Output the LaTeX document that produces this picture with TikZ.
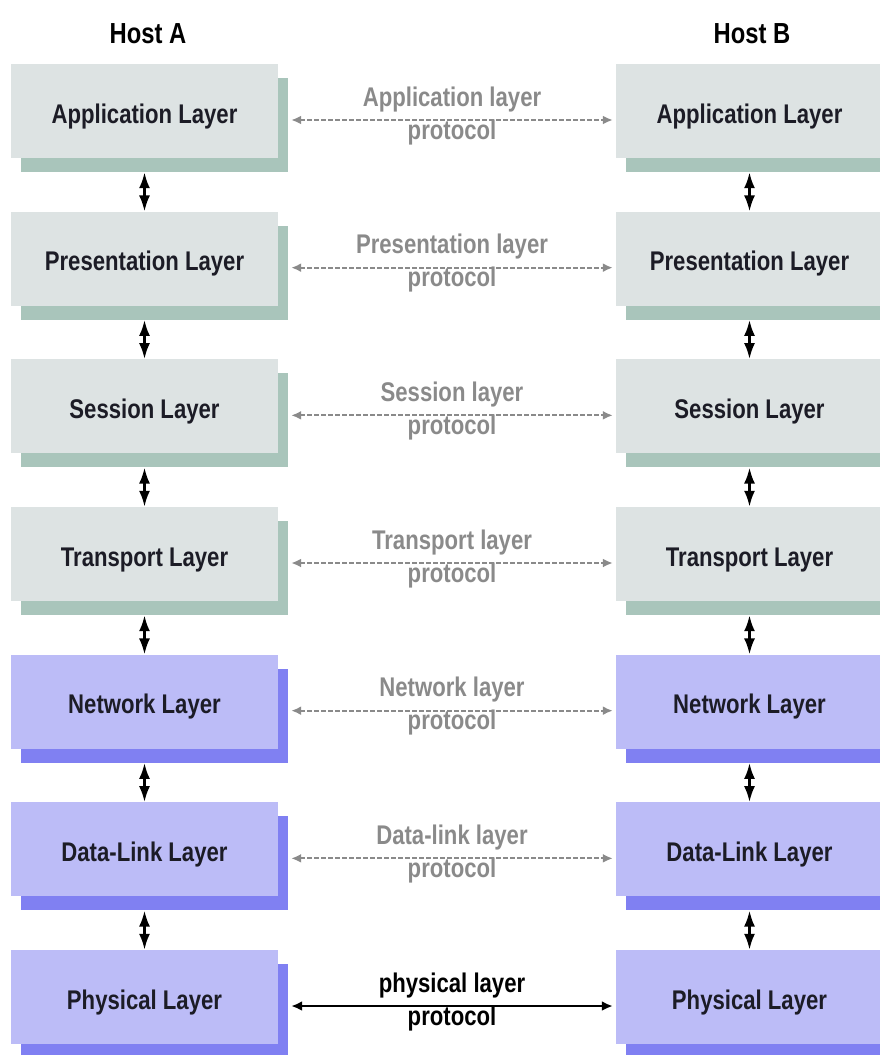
\documentclass[tikz,border=0pt]{standalone}
\usepackage{fontspec}
\newfontfamily\condfont[FakeStretch=0.82]{Liberation Sans}
\usetikzlibrary{arrows.meta,shadows}

\definecolor{upperfill}{HTML}{DDE3E3}
\definecolor{uppershade}{HTML}{A9C5BB}
\definecolor{lowerfill}{HTML}{BCBCF7}
\definecolor{lowershade}{HTML}{8080F2}
\definecolor{labelink}{HTML}{1C1C26}
\definecolor{protogray}{HTML}{8A8A8A}

\tikzset{
  layerbox/.style={rectangle, draw=none, inner sep=0pt,
    minimum width=267pt, minimum height=94pt,
    text height=24pt, text depth=0pt,
    font=\condfont\bfseries\fontsize{27}{30}\selectfont, text=labelink},
  upper/.style={layerbox, fill=upperfill,
    drop shadow={shadow xshift=10pt, shadow yshift=-14pt, fill=uppershade, opacity=1}},
  lower/.style={layerbox, fill=lowerfill,
    drop shadow={shadow xshift=10pt, shadow yshift=-14pt, fill=lowershade, opacity=1}},
  hostlabel/.style={anchor=base, inner sep=0pt,
    font=\condfont\bfseries\fontsize{29}{32}\selectfont, text=black},
  vlink/.style={line width=2.6pt, {Latex[length=16pt,width=11pt]}-{Latex[length=16pt,width=11pt]}},
  peer/.style={line width=2.2pt, draw=protogray, dash pattern=on 4.5pt off 2.5pt,
    {Latex[length=10pt,width=9pt]}-{Latex[length=10pt,width=9pt]}},
  wire/.style={line width=2.6pt, draw=black,
    {Latex[length=11pt,width=10pt]}-{Latex[length=11pt,width=10pt]}},
  protoabove/.style={anchor=base, inner sep=0pt, yshift=14pt,
    font=\condfont\bfseries\fontsize{27}{30}\selectfont},
  protobelow/.style={anchor=base, inner sep=0pt, yshift=-19pt,
    font=\condfont\bfseries\fontsize{27}{30}\selectfont},
}

\begin{document}
\begin{tikzpicture}[x=1pt, y=-1pt]
  \useasboundingbox (0,0) rectangle (880,1055);

  % column headings
  \node[hostlabel] (hostA) at (148,43) {Host A};
  \node[hostlabel] (hostB) at (752,43) {Host B};

  % the seven layers of each host
  \foreach \i/\lab/\kind in {0/Application/upper, 1/Presentation/upper,
      2/Session/upper, 3/Transport/upper, 4/Network/lower,
      5/Data-Link/lower, 6/Physical/lower}{
    \node[\kind] (L\i) at (144.5, 111+147.67*\i) {\lab\ Layer};
    \node[\kind] (R\i) at (749.5, 111+147.67*\i) {\lab\ Layer};
  }

  % links between adjacent layers inside each host
  \foreach \i/\j in {0/1,1/2,2/3,3/4,4/5,5/6}{
    \draw[vlink] ([yshift=-14pt]L\i.south) -- (L\j.north);
    \draw[vlink] ([yshift=-14pt]R\i.south) -- (R\j.north);
  }

  % peer protocols between the hosts
  \foreach \i/\lab in {0/Application, 1/Presentation, 2/Session,
      3/Transport, 4/Network, 5/Data-link}{
    \draw[peer] ([xshift=13pt, yshift=-9pt]L\i.east) --
      node[protoabove, text=protogray] (P\i a) {\lab\ layer}
      node[protobelow, text=protogray] (P\i b) {protocol}
      ([xshift=-3pt, yshift=-9pt]R\i.west);
  }
  \draw[wire] ([xshift=13pt, yshift=-9pt]L6.east) --
    node[protoabove, text=black] (P6a) {physical layer}
    node[protobelow, text=black] (P6b) {protocol}
    ([xshift=-3pt, yshift=-9pt]R6.west);
\end{tikzpicture}
\end{document}
